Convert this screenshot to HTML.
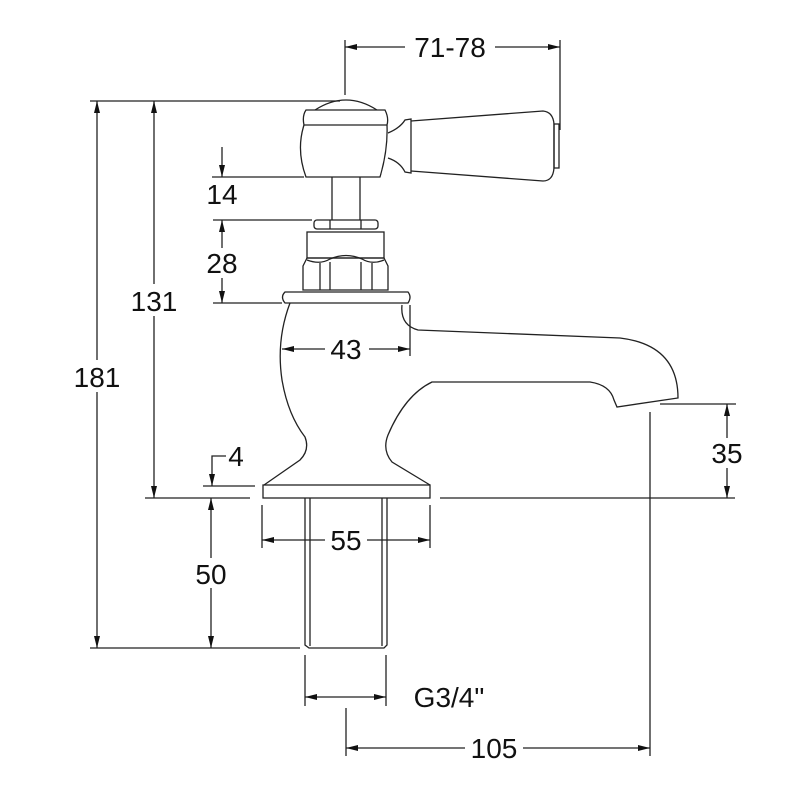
<!DOCTYPE html>
<html><head><meta charset="utf-8"><style>html,body{margin:0;padding:0;background:#fff}svg{display:block}</style></head><body>
<svg width="800" height="800" viewBox="0 0 800 800" xmlns="http://www.w3.org/2000/svg">
<defs>
<marker id="a" viewBox="0 0 12 6" refX="12" refY="3" markerWidth="12" markerHeight="6" markerUnits="userSpaceOnUse" orient="auto-start-reverse"><path d="M0,0 L12,3 L0,6 z" fill="#111"/></marker>
</defs>
<g fill="none" stroke="#222" stroke-width="1.3">
<!-- extension lines -->
<line x1="90" y1="101" x2="340" y2="101"/>
<line x1="145" y1="498" x2="250" y2="498"/>
<line x1="440" y1="498" x2="735" y2="498"/>
<line x1="90" y1="648" x2="300" y2="648"/>
<line x1="345" y1="40" x2="345" y2="95"/>
<line x1="560" y1="40" x2="560" y2="130"/>
<line x1="212" y1="177" x2="304" y2="177"/>
<line x1="213" y1="220" x2="312" y2="220"/>
<line x1="213" y1="303" x2="282" y2="303"/>
<line x1="203" y1="486" x2="255" y2="486"/>
<line x1="410" y1="305" x2="410" y2="356"/>
<line x1="262" y1="505" x2="262" y2="548"/>
<line x1="430" y1="505" x2="430" y2="548"/>
<line x1="305" y1="655" x2="305" y2="706"/>
<line x1="386" y1="655" x2="386" y2="706"/>
<line x1="346" y1="708" x2="346" y2="756"/>
<line x1="650" y1="412" x2="650" y2="756"/>
<line x1="660" y1="404" x2="736" y2="404"/>
<!-- dimension lines -->
<line x1="345" y1="47" x2="560" y2="47" marker-start="url(#a)" marker-end="url(#a)"/>
<line x1="97" y1="101" x2="97" y2="648" marker-start="url(#a)" marker-end="url(#a)"/>
<line x1="154" y1="101" x2="154" y2="498" marker-start="url(#a)" marker-end="url(#a)"/>
<line x1="222" y1="147" x2="222" y2="177" marker-end="url(#a)"/>
<line x1="222" y1="220" x2="222" y2="303" marker-start="url(#a)" marker-end="url(#a)"/>
<polyline points="226,456 212,456 212,486" marker-end="url(#a)"/>
<line x1="211" y1="498" x2="211" y2="648" marker-start="url(#a)" marker-end="url(#a)"/>
<line x1="282" y1="349" x2="410" y2="349" marker-start="url(#a)" marker-end="url(#a)"/>
<line x1="262" y1="540" x2="430" y2="540" marker-start="url(#a)" marker-end="url(#a)"/>
<line x1="305" y1="697" x2="386" y2="697" marker-start="url(#a)" marker-end="url(#a)"/>
<line x1="346" y1="748" x2="650" y2="748" marker-start="url(#a)" marker-end="url(#a)"/>
<line x1="727" y1="404" x2="727" y2="498" marker-start="url(#a)" marker-end="url(#a)"/>
<!-- handle -->
<path d="M315,110 Q346,90 377,110"/>
<path d="M306,110 L385,110 Q389,118 387,125 L304,125 Q302,116 306,110 Z"/>
<path d="M304,125 Q296,150 306,177 L380,177 Q388,150 387,125"/>
<path d="M388,133 Q400,128 405,120 L411,119 L411,173 L405,172 Q400,162 388,158"/>
<path d="M411,121 L543,111 Q553,112 554,124 L554,168 Q553,181 543,181 L411,171"/>
<rect x="554" y="124" width="5" height="44"/>
<!-- stem -->
<line x1="332" y1="177" x2="332" y2="220"/>
<line x1="360" y1="177" x2="360" y2="220"/>
<rect x="314" y="220" width="64" height="9" rx="3"/>
<line x1="330" y1="220" x2="330" y2="229"/><line x1="361" y1="220" x2="361" y2="229"/>
<rect x="307" y="232" width="77" height="26"/>
<path d="M307,258 L303,266 L303,290 L388,290 L388,266 L384,258 Z"/>
<path d="M307,260 Q320,265 330,259 Q346,252 362,259 Q372,265 384,260"/>
<line x1="320" y1="263" x2="320" y2="290"/><line x1="330" y1="262" x2="330" y2="290"/>
<line x1="361" y1="262" x2="361" y2="290"/><line x1="372" y1="263" x2="372" y2="290"/>
<path d="M285,292 L408,292 Q412,297 408,303 L285,303 Q280,297 285,292 Z"/>
<!-- body -->
<path d="M290,303 Q276,340 282,380 Q288,415 305,437 Q310,450 300,460 L264,485"/>
<path d="M402,305 Q400,325 418,330 L620,338 Q678,345 678,398 L617,407 L614,400 Q610,385 590,382 L432,382 Q405,395 388,435 Q382,450 392,462 L430,485"/>
<rect x="263" y="485" width="167" height="13"/>
<!-- pipe -->
<path d="M305,498 L305,645 L309,648 L384,648 L387,645 L387,498"/>
<line x1="310" y1="498" x2="310" y2="646"/>
<line x1="382" y1="498" x2="382" y2="646"/>
</g>
<g font-family="Liberation Sans, sans-serif" font-size="28" fill="#111" text-anchor="middle">
<rect x="405" y="32" width="90" height="30" fill="#fff"/>
<text x="450" y="57">71-78</text>
<rect x="78" y="360" width="40" height="32" fill="#fff"/>
<text x="97" y="387">181</text>
<rect x="130" y="284" width="50" height="32" fill="#fff"/>
<text x="154" y="311">131</text>
<text x="222" y="204">14</text>
<rect x="205" y="248" width="36" height="30" fill="#fff"/>
<text x="222" y="273">28</text>
<text x="236" y="466">4</text>
<rect x="193" y="558" width="38" height="30" fill="#fff"/>
<text x="211" y="584">50</text>
<rect x="325" y="334" width="44" height="30" fill="#fff"/>
<text x="346" y="359">43</text>
<rect x="325" y="525" width="42" height="30" fill="#fff"/>
<text x="346" y="550">55</text>
<text x="449" y="707">G3/4"</text>
<rect x="465" y="733" width="58" height="30" fill="#fff"/>
<text x="494" y="758">105</text>
<rect x="708" y="438" width="40" height="30" fill="#fff"/>
<text x="727" y="463">35</text>
</g>
</svg>
</body></html>
